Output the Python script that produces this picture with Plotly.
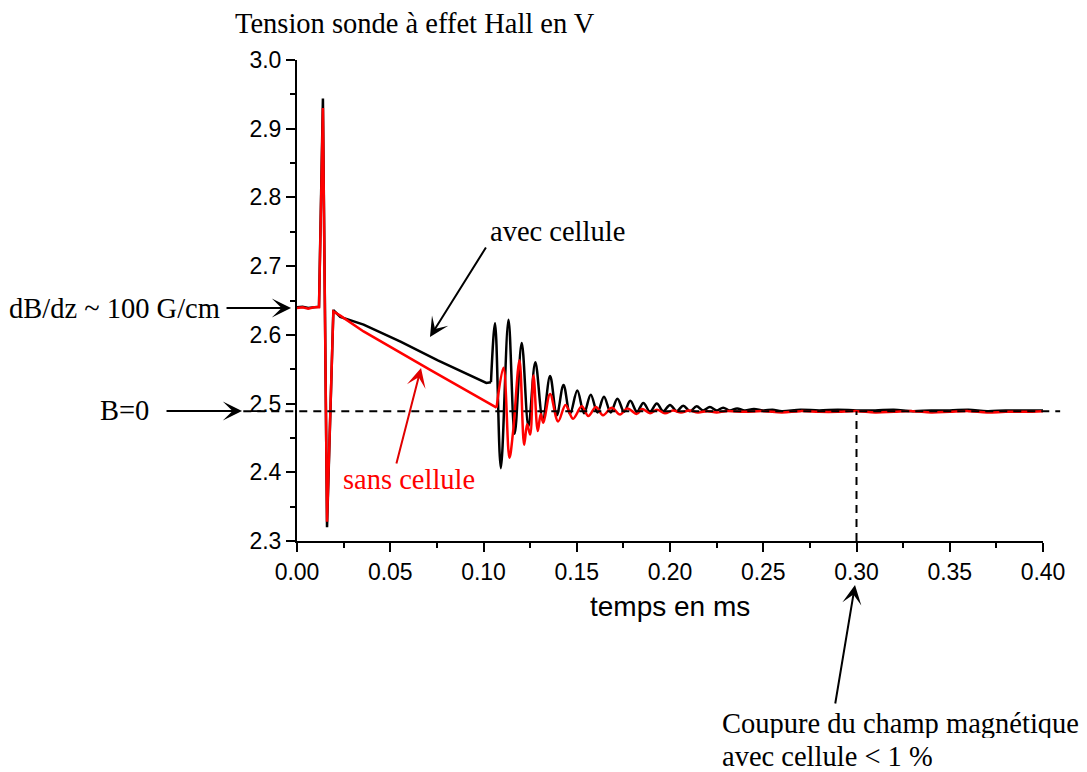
import plotly.graph_objects as go

# ---------------- data (time in ms, voltage in V) ----------------
black_t_early = [0.000, 0.003, 0.006, 0.009, 0.0118, 0.0139, 0.0161, 0.0195,
                 0.0232, 0.0357, 0.0555, 0.0755, 0.0955, 0.1015, 0.1040]
black_v_early = [2.640, 2.641, 2.639, 2.640, 2.641, 2.944, 2.320, 2.636,
                 2.626, 2.615, 2.590, 2.563, 2.538, 2.530, 2.531]

black_t_osc = [0.1040, 0.1062, 0.1093, 0.1134, 0.1167, 0.1205, 0.1241, 0.1278, 0.1318,
               0.1357, 0.1393, 0.1429, 0.1464, 0.1503, 0.1539, 0.1575, 0.1611, 0.1646,
               0.1682, 0.1718, 0.1754, 0.1787, 0.1823, 0.1857, 0.1893, 0.1929, 0.1964,
               0.2000, 0.2036, 0.2071, 0.2107, 0.2143, 0.2177, 0.2214,
               0.2250, 0.2285, 0.2320, 0.2360, 0.2400, 0.2450, 0.2500, 0.2550, 0.2600,
               0.2700, 0.2800, 0.2900, 0.3000, 0.3100, 0.3200, 0.3300, 0.3400, 0.3500,
               0.3600, 0.3700, 0.3800, 0.3900, 0.4000]
black_v_osc = [2.531, 2.617, 2.406, 2.622, 2.456, 2.588, 2.467, 2.560, 2.476,
               2.540, 2.483, 2.527, 2.485, 2.519, 2.486, 2.513, 2.487, 2.510,
               2.487, 2.507, 2.488, 2.504, 2.488, 2.501, 2.488, 2.500, 2.489,
               2.498, 2.489, 2.497, 2.489, 2.496, 2.490, 2.495,
               2.490, 2.494, 2.490, 2.493, 2.490, 2.492, 2.490, 2.491, 2.489,
               2.491, 2.490, 2.491, 2.490, 2.490, 2.491, 2.489, 2.490, 2.490,
               2.491, 2.489, 2.490, 2.490, 2.490]

red_t_early = [0.000, 0.003, 0.006, 0.009, 0.0118, 0.0139, 0.0161, 0.0195,
               0.0232, 0.0357, 0.0714, 0.1070]
red_v_early = [2.639, 2.640, 2.638, 2.640, 2.640, 2.930, 2.328, 2.634,
               2.628, 2.605, 2.549, 2.494]

red_t_osc = [0.1070, 0.1107, 0.1139, 0.1159, 0.1193, 0.1218, 0.1234, 0.1250, 0.1268,
             0.1291, 0.1307, 0.1321, 0.1357, 0.1400, 0.1440, 0.1480, 0.1527, 0.1562,
             0.1603, 0.1641, 0.1688, 0.1732, 0.1771, 0.1822, 0.1850, 0.1893, 0.1930,
             0.1973, 0.2016, 0.2059, 0.2102,
             0.2150, 0.2200, 0.2250, 0.2300, 0.2400, 0.2500, 0.2600, 0.2700, 0.2800,
             0.2900, 0.3000, 0.3100, 0.3200, 0.3300, 0.3400, 0.3500, 0.3600, 0.3700,
             0.3800, 0.3900, 0.4000]
red_v_osc = [2.494, 2.552, 2.421, 2.460, 2.563, 2.440, 2.470, 2.455, 2.541,
             2.460, 2.485, 2.472, 2.514, 2.474, 2.498, 2.478, 2.496, 2.482,
             2.495, 2.483, 2.494, 2.484, 2.493, 2.485, 2.492, 2.486, 2.491,
             2.486, 2.490, 2.487, 2.490,
             2.487, 2.489, 2.487, 2.489, 2.488, 2.489, 2.487, 2.489, 2.488,
             2.488, 2.489, 2.487, 2.488, 2.489, 2.487, 2.488, 2.489, 2.487,
             2.488, 2.488, 2.489]

x_ticks = [0.00, 0.05, 0.10, 0.15, 0.20, 0.25, 0.30, 0.35, 0.40]
y_ticks = [2.3, 2.4, 2.5, 2.6, 2.7, 2.8, 2.9, 3.0]
b_zero = 2.489
cut_time = 0.30

# ---------------- figure ----------------
fig = go.Figure()
LW = 2.5
fig.add_trace(go.Scatter(x=black_t_early, y=black_v_early, mode="lines",
                         line=dict(color="black", width=LW), showlegend=False))
fig.add_trace(go.Scatter(x=black_t_osc, y=black_v_osc, mode="lines",
                         line=dict(color="black", width=LW, shape="spline", smoothing=1.0),
                         showlegend=False))
fig.add_trace(go.Scatter(x=red_t_early, y=red_v_early, mode="lines",
                         line=dict(color="#ff0000", width=LW), showlegend=False))
fig.add_trace(go.Scatter(x=red_t_osc, y=red_v_osc, mode="lines",
                         line=dict(color="#ff0000", width=LW, shape="spline", smoothing=1.0),
                         showlegend=False))

# dashed reference lines
fig.add_shape(type="line", xref="paper", yref="y", x0=-0.072, x1=1.023,
              y0=b_zero, y1=b_zero, line=dict(color="black", width=2, dash="8px,6px"))
fig.add_shape(type="line", xref="x", yref="y", x0=cut_time, x1=cut_time,
              y0=2.3, y1=b_zero, line=dict(color="black", width=2, dash="8px,6px"))

serif = "Liberation Serif, Times New Roman, serif"
sans = "Liberation Sans, Arial, sans-serif"
TS = 28.5

def txt(x, y, text, ref="paper", xanchor="center", color="black", size=TS,
        family=serif, align="left", height=None):
    kw = {}
    if height is not None:
        kw["height"] = height
        kw["valign"] = "middle"
    fig.add_annotation(x=x, y=y, xref="x" if ref == "data" else "paper",
                       yref="y" if ref == "data" else "paper", text=text, showarrow=False,
                       xanchor=xanchor, yanchor="middle", align=align,
                       font=dict(family=family, size=size, color=color), **kw)

def arrow_data(tx, ty, hx, hy, color="black"):
    fig.add_annotation(x=hx, y=hy, ax=tx, ay=ty, xref="x", yref="y", axref="x", ayref="y",
                       text="", showarrow=True, arrowhead=3, arrowsize=1.6, arrowwidth=2,
                       arrowcolor=color, standoff=0, startstandoff=0,
                       font=dict(size=1))

def arrow_paper(hx, hy, dx, dy, color="black"):
    fig.add_annotation(x=hx, y=hy, ax=dx, ay=dy, xref="paper", yref="paper",
                       axref="pixel", ayref="pixel",
                       text="", showarrow=True, arrowhead=3, arrowsize=1.6, arrowwidth=2,
                       arrowcolor=color, standoff=0, startstandoff=0,
                       font=dict(size=1))

txt(-0.0858, 1.0770, "Tension sonde à effet Hall en V", xanchor="left", height=30)
txt(-0.1005, 0.4844, "dB/dz ~ 100 G/cm", xanchor="right")
arrow_paper(-0.0080, 0.4844, -66, 0)
txt(-0.2306, 0.2703, "B=0")
arrow_paper(-0.0737, 0.2703, -77, 0)
txt(0.1399, 2.7497, "avec cellule", ref="data")
arrow_data(0.1018, 2.7293, 0.0713, 2.5969)
txt(0.0600, 2.3888, "sans cellule", ref="data", color="#ff0000")
arrow_data(0.0531, 2.4106, 0.0665, 2.5518, color="#e00000")
txt(0.5670, -0.3784, "Coupure du champ magnétique", xanchor="left", height=30)
txt(0.5670, -0.4470, "avec cellule &lt; 1 %", xanchor="left", height=30)
arrow_paper(0.7480, -0.0915, -20, 120)
txt(0.5, -0.1372, "temps en ms", family=sans, size=28)

axis_common = dict(showgrid=False, zeroline=False, showline=True, linecolor="black",
                   linewidth=2, ticks="outside", ticklen=9, tickwidth=2, tickcolor="black",
                   tickfont=dict(family=sans, size=23, color="black"), mirror=False)

fig.update_xaxes(range=[0, 0.40], tickvals=x_ticks, tickformat=".2f",
                 minor=dict(dtick=0.025, ticklen=5, tickwidth=2, tickcolor="black", ticks="outside"),
                 **axis_common)
fig.update_yaxes(range=[2.3, 3.0], tickvals=y_ticks, tickformat=".1f",
                 minor=dict(dtick=0.05, ticklen=5, tickwidth=2, tickcolor="black", ticks="outside"),
                 **axis_common)

fig.update_layout(width=1079, height=764, plot_bgcolor="white", paper_bgcolor="white",
                  margin=dict(l=289, r=44, t=52, b=231), showlegend=False)

fig.write_html("out.html")
